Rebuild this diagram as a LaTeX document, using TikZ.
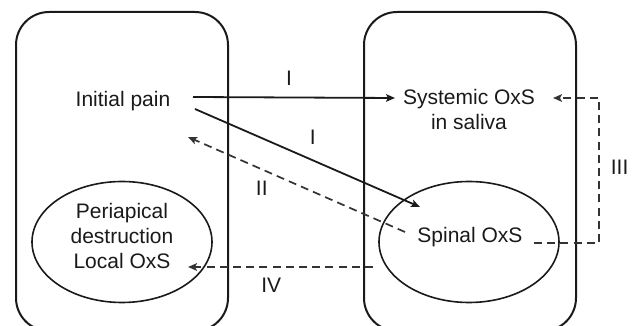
\documentclass[tikz,border=0pt]{standalone}
\usepackage{fontspec}
\setmainfont{Liberation Sans}
\usepackage{tikz}
\usetikzlibrary{arrows.meta,calc,positioning,shapes.geometric}
\definecolor{oxsInk}{HTML}{1A1A1A}
\definecolor{oxsDash}{HTML}{333333}

\begin{document}
\begin{tikzpicture}[
  x=0.5pt, y=-0.5pt,
  font=\fontsize{10.5}{12.5}\selectfont,
  panel/.style={draw=oxsInk, line width=1pt, rounded corners=16.5pt, minimum width=106pt, minimum height=159.5pt, inner sep=0pt},
  site/.style={draw=oxsInk, ellipse, line width=.8pt, minimum width=90pt, minimum height=60.5pt, inner sep=0pt},
  term/.style={align=center, inner sep=0pt, text=oxsInk},
  flow/.style={-{Stealth[length=4.5pt, width=3.8pt, inset=1pt]}, line width=.9pt, draw=oxsInk},
  back/.style={-{Stealth[length=4.5pt, width=3.8pt, inset=1pt]}, dash pattern=on 4pt off 2.6pt, line width=.85pt, draw=oxsDash},
  tag/.style={inner sep=0pt, text=oxsInk}
]
  \useasboundingbox (0,0) rectangle (633,326);

  % two compartments, cut off at the bottom edge
  \node[panel] (oral) at (122,171.5) {};
  \node[panel] (body) at (470,171.5) {};
  \node[site] (lesion) at (122,242) {};
  \node[site] (spine) at (469,242) {};

  \node[term] (pain) at (123,101) {Initial pain};
  \node[term] (saliva) at (469,109) {Systemic OxS\\in saliva};
  \node[term] (spinal) at (470,237) {Spinal OxS};
  \node[term] (local) at (122,236) {Periapical\\destruction\\Local OxS};

  \draw[flow] ($(pain)+(70,-4)$) -- node[tag, pos=.475, above=5.5pt]{I} ($(saliva)+(-74,-11)$);
  \draw[flow] ($(pain)+(72,8)$) -- node[tag, pos=.524, above=7.5pt]{I} ($(spinal)+(-50,-30)$);
  \draw[back] ($(spinal)+(-65,-5)$) -- node[tag, pos=.66, below=5.3pt]{II} ($(pain)+(65,36)$);
  \draw[back] ($(spinal)+(64,6)$) -- ++(65,0) |- node[tag, pos=.26, right=5.5pt]{III} ($(saliva)+(84,-11)$);
  \draw[back] ($(spinal)+(-97,30)$) -- node[tag, pos=.55, below=5pt]{IV} ($(local)+(66,31)$);
\end{tikzpicture}
\end{document}
